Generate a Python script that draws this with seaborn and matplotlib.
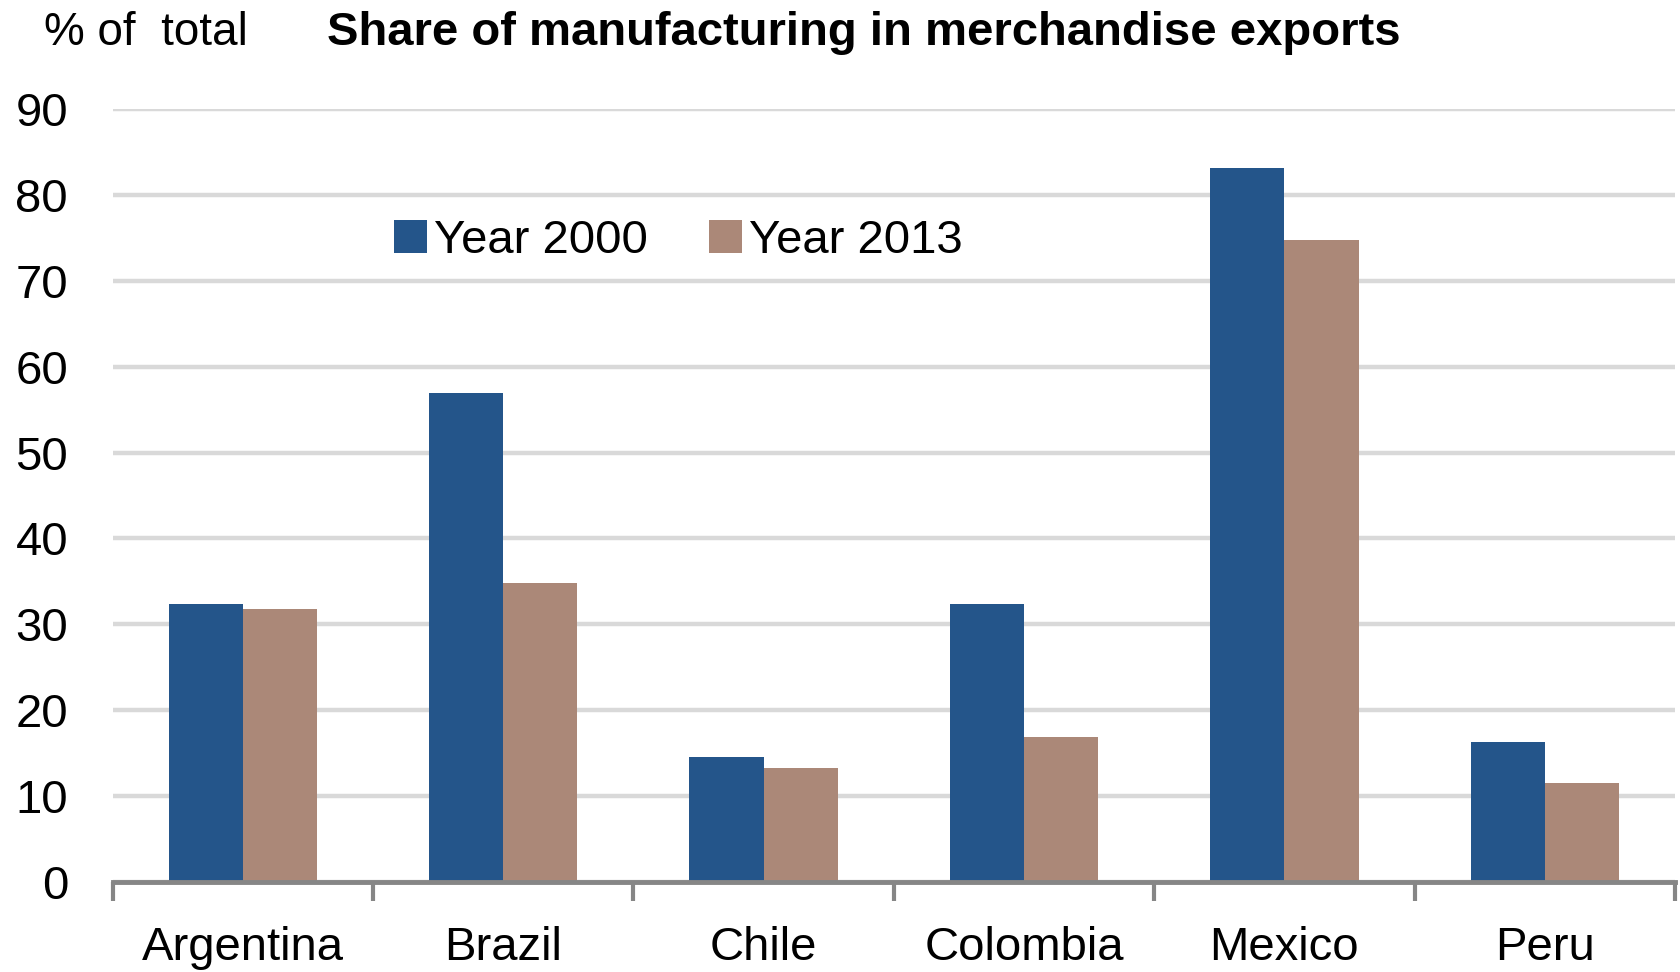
import matplotlib
matplotlib.use("Agg")
import matplotlib.pyplot as plt
import seaborn as sns
import pandas as pd
import numpy as np
from matplotlib.patches import Patch

# Share of manufacturing in merchandise exports, % of total
countries = ["Argentina", "Brazil", "Chile", "Colombia", "Mexico", "Peru"]
share_2000 = [32.4, 56.9, 14.5, 32.4, 83.2, 16.3]
share_2013 = [31.8, 34.8, 13.3, 16.9, 74.8, 11.5]
series_labels = ["Year 2000", "Year 2013"]
y_ticks = [0, 10, 20, 30, 40, 50, 60, 70, 80, 90]

BLUE = "#24558A"
BROWN = "#AB8878"
GRID = "#D9D9D9"
AXIS = "#868686"
TEXT = "#000000"

df = pd.DataFrame({
    "country": countries * 2,
    "share": share_2000 + share_2013,
    "series": [series_labels[0]] * len(countries) + [series_labels[1]] * len(countries),
})

sns.set_theme(style="white")
plt.rcParams["font.family"] = ["Liberation Sans", "DejaVu Sans"]
plt.rcParams["text.color"] = TEXT
plt.rcParams["xtick.color"] = TEXT
plt.rcParams["ytick.color"] = TEXT

fig = plt.figure(figsize=(16.8, 9.72), dpi=100)
ax = fig.add_axes([0.067, 0.0928, 0.93, 0.7948])

sns.barplot(
    data=df, x="country", y="share", hue="series",
    palette=[BLUE, BROWN], width=0.57, gap=0, saturation=1,
    edgecolor="none", linewidth=0, ax=ax, legend=False,
)

ax.set_xlim(-0.5, len(countries) - 0.5)
ax.set_ylim(0, 90)
ax.set_yticks(y_ticks)
ax.set_yticklabels([str(t) for t in y_ticks], fontsize=34, color=TEXT)
ax.set_xlabel("")
ax.set_ylabel("")

# horizontal gridlines behind the bars
ax.set_axisbelow(True)
ax.yaxis.grid(True, color=GRID, linewidth=3.2)
ax.xaxis.grid(False)
ax.tick_params(axis="y", length=0, pad=32)

for side in ["top", "right", "left"]:
    ax.spines[side].set_visible(False)
ax.spines["bottom"].set_color(AXIS)
ax.spines["bottom"].set_linewidth(3.5)

# category labels at centres, tick marks on group boundaries
ax.set_xticks(np.arange(len(countries)))
ax.set_xticklabels(countries, fontsize=34, color=TEXT)
ax.tick_params(axis="x", which="major", length=0, pad=32)
ax.set_xticks(np.arange(len(countries) + 1) - 0.5, minor=True)
ax.tick_params(axis="x", which="minor", bottom=True, length=14, width=3,
               color=AXIS, direction="out")

# legend inside plot
handles = [Patch(facecolor=BLUE, edgecolor="none"), Patch(facecolor=BROWN, edgecolor="none")]
ax.legend(
    handles, series_labels, loc="center left", bbox_to_anchor=(0.18, 0.83),
    ncol=2, frameon=False, fontsize=34, handlelength=0.7, handleheight=0.7,
    handletextpad=0.15, columnspacing=1.3, borderpad=0, borderaxespad=0,
    labelcolor=TEXT,
)

fig.text(0.026, 0.966, "% of  total", fontsize=33, ha="left", va="center", color=TEXT)
fig.text(0.514, 0.966, "Share of manufacturing in merchandise exports",
         fontsize=34, fontweight="bold", ha="center", va="center", color=TEXT)

fig.savefig("out.png", dpi=100, facecolor="white")
